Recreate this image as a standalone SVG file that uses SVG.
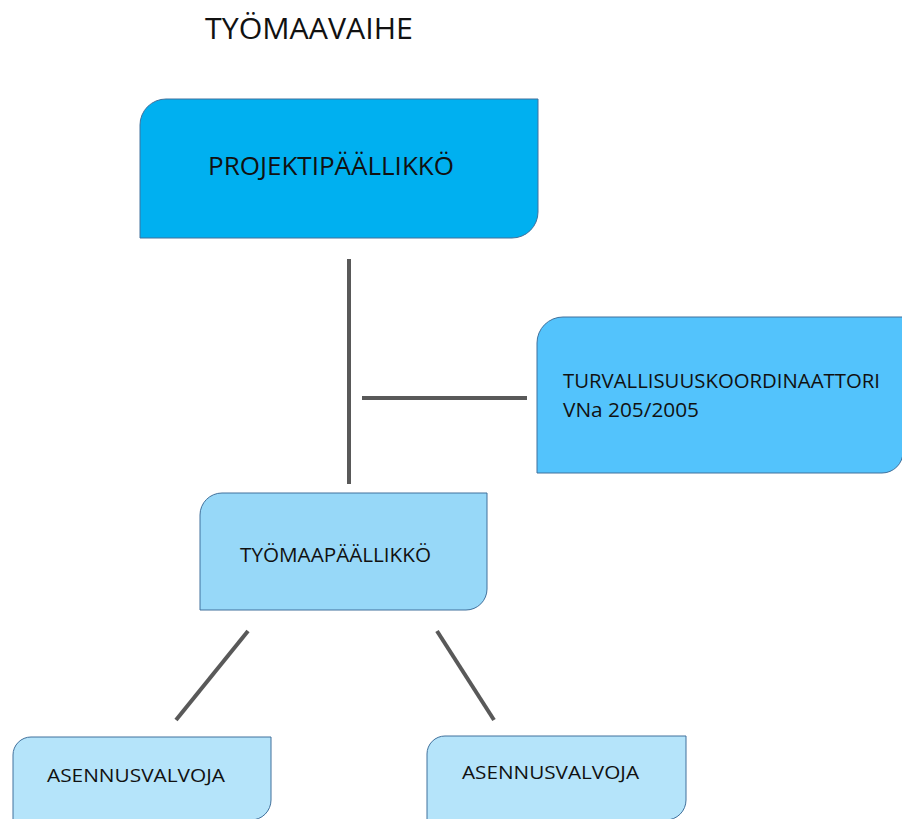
<svg xmlns="http://www.w3.org/2000/svg" width="902" height="819" viewBox="0 0 902 819">
<style>
.box{stroke:#41719C;stroke-width:1}
.t{font-family:"Open Sans","Noto Sans","Liberation Sans",sans-serif;fill:#111}
.c{stroke:#595959;stroke-width:4;fill:none}
</style>
<rect width="902" height="819" fill="#fff"/>
<text class="t" x="205" y="39" font-size="29" textLength="208" lengthAdjust="spacingAndGlyphs">TYÖMAAVAIHE</text>
<g id="connectors">
<line class="c" x1="349" y1="259" x2="349" y2="484"/>
<line class="c" x1="362" y1="398" x2="527" y2="398"/>
<line class="c" x1="248" y1="631" x2="176" y2="720"/>
<line class="c" x1="437" y1="631" x2="494" y2="720"/>
</g>
<g id="projektipaallikko">
<path class="box" fill="#00B0F0" d="M166,99 H538 V212 A26,26 0 0 1 512,238 H140 V125 A26,26 0 0 1 166,99 Z"/>
<text class="t" x="208" y="175" font-size="25" textLength="246" lengthAdjust="spacingAndGlyphs">PROJEKTIPÄÄLLIKKÖ</text>
</g>
<g id="turvallisuuskoordinaattori">
<path class="box" fill="#53C3FC" d="M563,317 H903 V452 A21,21 0 0 1 882,473 H537 V343 A26,26 0 0 1 563,317 Z"/>
<text class="t" x="563" y="388" font-size="20" textLength="317" lengthAdjust="spacingAndGlyphs">TURVALLISUUSKOORDINAATTORI</text>
<text class="t" x="563" y="417" font-size="20" textLength="136" lengthAdjust="spacingAndGlyphs">VNa 205/2005</text>
</g>
<g id="tyomaapaallikko">
<path class="box" fill="#97D8F8" d="M222,493 H487 V589 A21,21 0 0 1 466,610 H200 V515 A22,22 0 0 1 222,493 Z"/>
<text class="t" x="240" y="562" font-size="20" textLength="191" lengthAdjust="spacingAndGlyphs">TYÖMAAPÄÄLLIKKÖ</text>
</g>
<g id="asennusvalvoja1">
<path class="box" fill="#B5E4FA" d="M31,737 H271 V800 A20,20 0 0 1 251,820 H13 V755 A18,18 0 0 1 31,737 Z"/>
<text class="t" x="47" y="782" font-size="19" textLength="178" lengthAdjust="spacingAndGlyphs">ASENNUSVALVOJA</text>
</g>
<g id="asennusvalvoja2">
<path class="box" fill="#B5E4FA" d="M445,736 H686 V800 A20,20 0 0 1 666,820 H427 V754 A18,18 0 0 1 445,736 Z"/>
<text class="t" x="462" y="779" font-size="19" textLength="177" lengthAdjust="spacingAndGlyphs">ASENNUSVALVOJA</text>
</g>
</svg>
